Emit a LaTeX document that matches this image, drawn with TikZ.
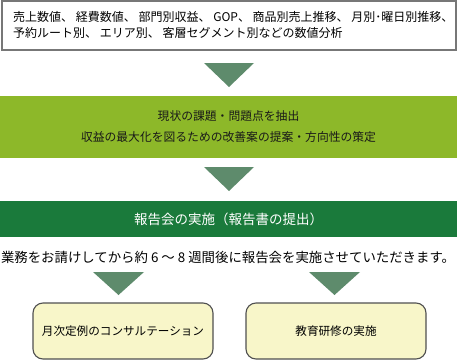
\documentclass[tikz,border=0pt]{standalone}
\usepackage{fontspec}
\setmainfont{Noto Sans CJK JP}
\definecolor{boxgray}{HTML}{777777}
\definecolor{lgreen}{HTML}{8DB829}
\definecolor{dgreen}{HTML}{1A7A3B}
\definecolor{arrowc}{HTML}{5E8B6C}
\definecolor{cream}{HTML}{F8F6C9}
\definecolor{edge}{HTML}{505050}
\tikzset{
  box1/.style={draw=boxgray, line width=2pt, fill=white, minimum width=454pt, minimum height=49pt, inner sep=0pt},
  box2/.style={fill=lgreen, minimum width=457pt, minimum height=62pt, inner sep=0pt, align=center, font=\fontsize{11.8}{21}\selectfont, text=black!90},
  box3/.style={fill=dgreen, minimum width=457pt, minimum height=36pt, inner sep=0pt, text=white, font=\fontsize{13.5}{16}\selectfont},
  roundbox/.style={draw=edge, line width=1.1pt, fill=cream, rounded corners=10pt, minimum width=180pt, minimum height=56pt, inner sep=0pt, font=\fontsize{11.6}{14}\selectfont},
  tri/.style={fill=arrowc},
  txt/.style={font=\fontsize{12}{16}\selectfont, align=left, inner sep=0pt}
}
\begin{document}
\begin{tikzpicture}[x=1pt,y=-1pt]
\useasboundingbox (0,0) rectangle (457,361);
\node[box1] (b1) at (228.5,26) {};
\node[txt, anchor=west] (t1) at (13,25) {売上数値、 経費数値、 部門別収益、 GOP、 商品別売上推移、 月別･曜日別推移、\\予約ルート別、 エリア別、 客層セグメント別などの数値分析};
\fill[tri] (204,63) -- (254,63) -- (229,87) -- cycle;
\node[box2] (b2) at (228.5,127) {現状の課題・問題点を抽出\\収益の最大化を図るための改善案の提案・方向性の策定};
\fill[tri] (204,167) -- (254,167) -- (229,191) -- cycle;
\node[box3] (b3) at (228.5,219) {報告会の実施（報告書の提出）};
\node[font=\fontsize{13.4}{16}\selectfont, inner sep=0pt] (t2) at (228,257) {業務をお請けしてから約 6 ～ 8 週間後に報告会を実施させていただきます。};
\fill[tri] (93,272) -- (144,272) -- (118.5,295) -- cycle;
\fill[tri] (309,272) -- (360,272) -- (334.5,295) -- cycle;
\node[roundbox] (c1) at (123,331) {月次定例のコンサルテーション};
\node[roundbox] (c2) at (336,331) {教育研修の実施};
\end{tikzpicture}
\end{document}
